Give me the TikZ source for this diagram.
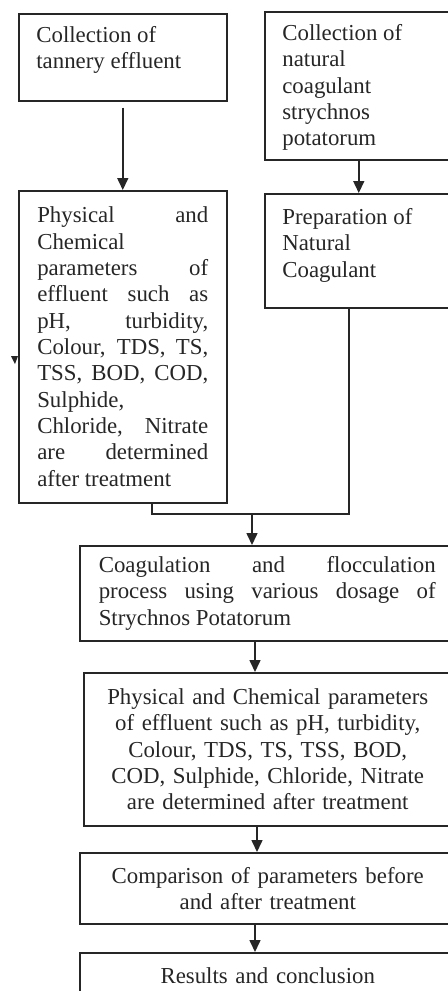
\documentclass[tikz,border=0pt]{standalone}
\usepackage{fontspec}
\setmainfont{Liberation Serif}
\usetikzlibrary{calc,arrows.meta,positioning}
\hbadness=10000

\begin{document}
\begin{tikzpicture}[x=0.02cm,y=-0.02cm,
  font=\fontsize{13pt}{15pt}\selectfont,
  stepbox/.style={draw=black!85,line width=0.9pt,inner sep=0pt,anchor=north west,text=black!85},
  txt/.style={text=black!85,inner sep=0pt,anchor=north west,align=left},
  flow/.style={black!85,line width=0.9pt,-{Triangle[width=0.22cm,length=0.24cm]}},
  link/.style={black!85,line width=0.9pt}]

\useasboundingbox (0,0) rectangle (448,991);
\clip (0,0) rectangle (448,991);

% left column
\node[stepbox,minimum width=4.16cm,minimum height=1.74cm] (tannery) at (18,13) {};
\node[txt] (tanneryt) at ([shift={(18,13)}]tannery.north west) {Collection of\\tannery effluent};
\node[stepbox,minimum width=4.16cm,minimum height=6.24cm,text width=3.42cm,align=justify] (before) at (18,190)
  {Physical and\linebreak Chemical\linebreak parameters of\linebreak effluent such as\linebreak pH, turbidity,\linebreak
   Colour, TDS, TS,\linebreak TSS, BOD, COD,\linebreak Sulphide,\linebreak Chloride, Nitrate\linebreak are determined\linebreak after treatment};

% right column
\node[stepbox,minimum width=3.76cm,minimum height=2.96cm] (natural) at (264,11) {};
\node[txt] (naturalt) at ([shift={(18,13)}]natural.north west) {Collection of\\natural\\coagulant\\strychnos\\potatorum};
\node[stepbox,minimum width=3.76cm,minimum height=2.28cm] (prep) at (264,193) {};
\node[txt] (prept) at ([shift={(18,15)}]prep.north west) {Preparation of\\Natural\\Coagulant};

% main line
\node[stepbox,minimum width=7.5cm,minimum height=1.9cm,text width=6.74cm,align=justify] (coag) at (79,545)
  {Coagulation and flocculation\linebreak process using various dosage of\linebreak Strychnos Potatorum};
\node[stepbox,minimum width=7.36cm,minimum height=3.06cm,text width=6.9cm,align=center] (after) at (83,672)
  {Physical and Chemical parameters\\of effluent such as pH, turbidity,\\Colour, TDS, TS, TSS, BOD,\\COD, Sulphide, Chloride, Nitrate\\are determined after treatment};
\node[stepbox,minimum width=7.52cm,minimum height=1.42cm,text width=6.9cm,align=center] (compare) at (79,852)
  {Comparison of parameters before\\and after treatment};
\node[stepbox,minimum width=7.52cm,minimum height=0.92cm,text width=6.9cm,align=center] (result) at (79,952)
  {Results and conclusion};

\coordinate (jl) at (152,514);
\coordinate (jr) at (349,514);
\coordinate (jm) at (252,514);
\coordinate (spine) at (255,0);

\draw[flow,shorten <=0.12cm] (tannery.south) -- (before.north);
\draw[flow] (natural.south) -- (prep.north);
\draw[link] (before.south -| jl) -- (jl) -- (jr) -- (prep.south -| jr);
\draw[flow] (jm) -- (coag.north -| jm);
\draw[flow] (coag.south -| spine) -- (after.north -| spine);
\draw[flow] ([xshift=0.04cm]after.south -| spine) -- ([xshift=0.04cm]compare.north -| spine);
\draw[flow] (compare.south -| spine) -- (result.north -| spine);

% stray tip left of the first parameter box
\fill[black!85] (11,356) -- (18,356) -- (15,364) -- cycle;
\end{tikzpicture}
\end{document}
